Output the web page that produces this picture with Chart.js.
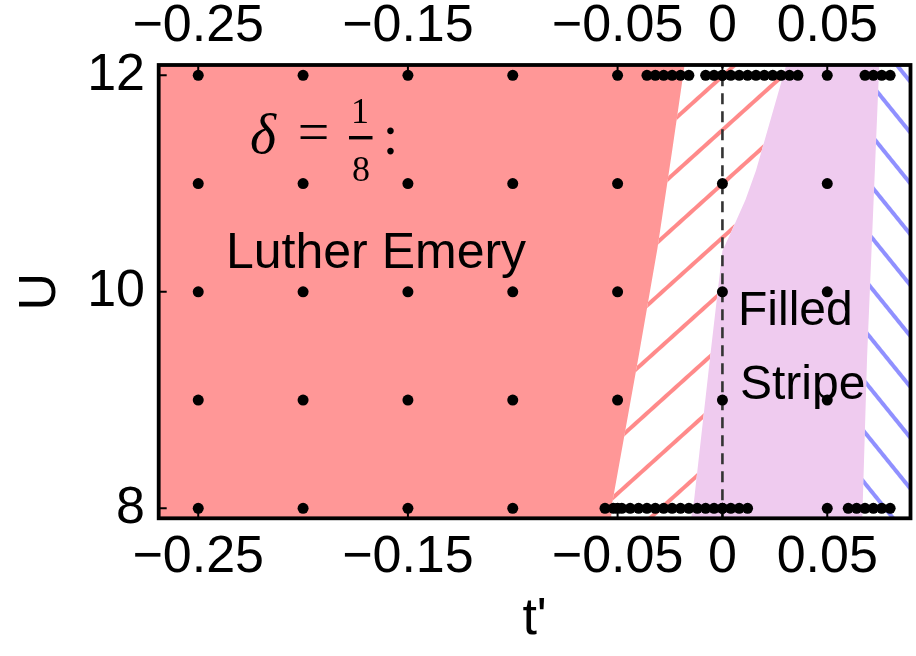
<!DOCTYPE html>
<html><head><meta charset="utf-8">
<script src="https://cdn.jsdelivr.net/npm/chart.js@4.4.1/dist/chart.umd.min.js"></script>
<style>html,body{margin:0;padding:0;background:#fff;}canvas{display:block;}</style>
</head><body>
<canvas id="c" width="916" height="656"></canvas>
<script>
// ---- data ----
const X_TICKS = [-0.25, -0.15, -0.05, 0, 0.05];
const X_TICK_LABELS = ['\u22120.25', '\u22120.15', '\u22120.05', '0', '0.05'];
const Y_TICKS = [8, 10, 12];
const Y_TICK_LABELS = ['8', '10', '12'];
const GRID_T = [-0.25, -0.2, -0.15, -0.1, -0.05, 0, 0.05];
const GRID_U = [8, 9, 10, 11, 12];
const TOP_ROW_T = [-0.036, -0.032, -0.028, -0.024, -0.020, -0.016,
  -0.008, -0.004, 0.000, 0.004, 0.008, 0.012, 0.016, 0.020, 0.024, 0.028, 0.032, 0.036,
  0.068, 0.072, 0.076, 0.080];
const BOTTOM_ROW_T = [-0.056, -0.052, -0.048, -0.044, -0.040, -0.036, -0.032, -0.028, -0.024,
  -0.020, -0.016, -0.012, -0.008, -0.004, 0.000, 0.004, 0.008, 0.012,
  0.060, 0.064, 0.068, 0.072, 0.076, 0.080];
// phase boundaries (t', U)
const LE_T = [-0.0180, -0.0240, -0.0310, -0.0400, -0.0530, -0.0530];
const LE_U = [12.10, 11.30, 10.40, 9.40, 8.00, 7.90];
const SL_T = [0.0305, 0.0160, 0.0110, 0.0046, 0.0000, -0.0055, -0.0135, -0.0150];
const SL_U = [12.10, 11.12, 10.85, 10.57, 10.38, 9.46, 8.08, 7.90];
const SR_T = [0.0748, 0.0727, 0.0690, 0.0667];
const SR_U = [12.10, 11.12, 9.40, 7.90];
const X_MIN = -0.26886, X_MAX = 0.0897, Y_MIN = 7.908, Y_MAX = 12.095;

// ---- build ----
const pts = (T, U) => T.map((t, i) => ({x: t, y: U[i]}));
const rev = a => a.slice().reverse();
const LE = pts(LE_T, LE_U), SL = pts(SL_T, SL_U), SR = pts(SR_T, SR_U);
const redPoly = [{x: -0.3, y: 12.1}, ...LE, {x: -0.3, y: 7.9}];
const hatchRedPoly = [...LE, ...rev(SL)];
const purplePoly = [...SL, ...rev(SR)];
const hatchBluePoly = [...SR, {x: 0.12, y: 7.9}, {x: 0.12, y: 12.1}];
const dots = [];
GRID_U.forEach(u => GRID_T.forEach(t => dots.push({x: t, y: u})));
TOP_ROW_T.forEach(t => dots.push({x: t, y: 12}));
BOTTOM_ROW_T.forEach(t => dots.push({x: t, y: 8}));

const canvas = document.getElementById('c');
const ctx0 = canvas.getContext('2d');
function makeHatch(color, spacing, lw, angle) {
  const tile = document.createElement('canvas');
  tile.width = 16; tile.height = spacing;
  const g = tile.getContext('2d');
  g.fillStyle = color;
  g.fillRect(0, Math.round((spacing - lw) / 2), 16, lw);
  const p = ctx0.createPattern(tile, 'repeat');
  p.setTransform(new DOMMatrix().rotateSelf(angle));
  return p;
}
const redHatch = makeHatch('#ff8a8a', 40, 4, -42);
const blueHatch = makeHatch('#9090ff', 32, 4, 51);

const region = (data, bg, order) => ({
  data, backgroundColor: bg, borderWidth: 0, borderColor: 'rgba(0,0,0,0)',
  pointRadius: 0, fill: 'shape', tension: 0, order
});

const SANS = "'Liberation Sans', Arial, sans-serif";
const SERIF = "'Liberation Serif', 'DejaVu Serif', serif";

const overlay = {
  id: 'overlay',
  afterDatasetsDraw(chart) {
    const c = chart.ctx;
    c.save();
    c.fillStyle = '#000';
    c.textAlign = 'left'; c.textBaseline = 'alphabetic';
    c.font = '50px ' + SANS;
    c.fillText('Luther Emery', 226, 268);
    c.font = '48px ' + SANS;
    c.fillText('Filled', 738, 325);
    c.fillText('Stripe', 740, 399);
    // delta = 1/8 :
    c.textAlign = 'center';
    c.font = 'italic 56px ' + SERIF;
    c.fillText('\u03b4', 263, 153);
    c.font = '56px ' + SERIF;
    c.fillText('=', 313.5, 151);
    c.font = '36px ' + SERIF;
    c.fillText('1', 360, 123);
    c.fillText('8', 361, 181);
    c.fillRect(349, 136, 23.5, 3.4);
    c.font = '56px ' + SERIF;
    c.fillText(':', 390.5, 154);
    c.restore();
  },
  afterDraw(chart) {
    const c = chart.ctx, a = chart.chartArea;
    const xs = chart.scales.x, ys = chart.scales.y;
    c.save();
    c.strokeStyle = '#000';
    c.lineWidth = 2;
    c.beginPath();
    X_TICKS.forEach(v => {
      const px = xs.getPixelForValue(v);
      c.moveTo(px, a.bottom); c.lineTo(px, a.bottom - 8);
      c.moveTo(px, a.top); c.lineTo(px, a.top + 8);
    });
    Y_TICKS.forEach(v => {
      const py = ys.getPixelForValue(v);
      c.moveTo(a.left, py); c.lineTo(a.left + 8, py);
    });
    c.stroke();
    c.lineWidth = 3.8;
    c.strokeRect(a.left, a.top, a.right - a.left, a.bottom - a.top);
    c.restore();
  }
};

const tickFont = {family: SANS, size: 52, lineHeight: 1};
new Chart(canvas, {
  type: 'line',
  data: {
    datasets: [
      {data: dots, showLine: false, pointRadius: 5.5, pointBackgroundColor: '#000',
       pointBorderWidth: 0, borderColor: '#000', order: 0},
      {data: [{x: 0, y: Y_MIN}, {x: 0, y: Y_MAX}], borderColor: '#333', borderWidth: 2.6,
       borderDash: [11, 7], pointRadius: 0, fill: false, order: 1},
      region(hatchBluePoly, blueHatch, 4),
      region(purplePoly, '#efcbef', 4),
      region(hatchRedPoly, redHatch, 4),
      region(redPoly, '#ff9797', 5)
    ]
  },
  options: {
    responsive: false, animation: false, events: [],
    layout: {padding: {left: 0, top: 0, right: 4.3, bottom: 0}},
    plugins: {legend: {display: false}, tooltip: {enabled: false}},
    scales: {
      x: {
        type: 'linear', position: 'bottom', min: X_MIN, max: X_MAX,
        grid: {display: false, drawTicks: false}, border: {display: false},
        afterBuildTicks: s => { s.ticks = X_TICKS.map(v => ({value: v})); },
        afterFit: s => { s.height = 137.7; },
        ticks: {autoSkip: false, maxRotation: 0, minRotation: 0, padding: 13.2, color: '#000', font: tickFont,
          callback: v => X_TICK_LABELS[X_TICKS.indexOf(v)]},
        title: {display: true, text: "t'", color: '#000', font: {family: SANS, size: 52, lineHeight: 1},
          padding: {top: 0, bottom: 10}}
      },
      x2: {
        type: 'linear', axis: 'x', position: 'top', min: X_MIN, max: X_MAX,
        grid: {display: false, drawTicks: false}, border: {display: false},
        afterBuildTicks: s => { s.ticks = X_TICKS.map(v => ({value: v})); },
        afterFit: s => { s.height = 65; },
        ticks: {autoSkip: false, maxRotation: 0, minRotation: 0, padding: 12, color: '#000', font: tickFont,
          callback: v => X_TICK_LABELS[X_TICKS.indexOf(v)]}
      },
      y: {
        type: 'linear', position: 'left', min: Y_MIN, max: Y_MAX,
        grid: {display: false, drawTicks: false}, border: {display: false},
        afterBuildTicks: s => { s.ticks = Y_TICKS.map(v => ({value: v})); },
        afterFit: s => { s.width = 158.7; },
        ticks: {autoSkip: false, padding: 13.7, color: '#000', font: tickFont,
          callback: v => Y_TICK_LABELS[Y_TICKS.indexOf(v)]},
        title: {display: true, text: 'U', color: '#000', font: {family: SANS, size: 52, lineHeight: 1},
          padding: {top: 15, bottom: 0}}
      }
    }
  },
  plugins: [overlay]
});
</script>
</body></html>
